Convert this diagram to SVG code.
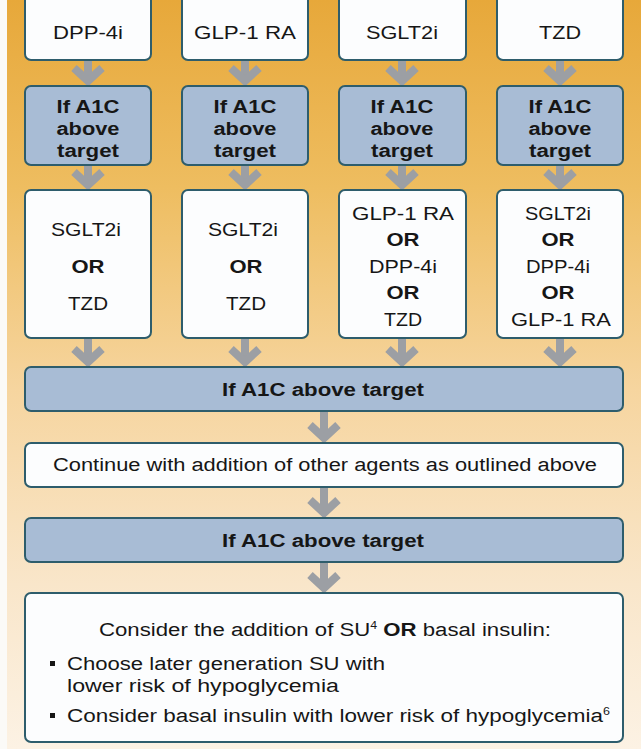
<svg xmlns="http://www.w3.org/2000/svg" width="641" height="749" viewBox="0 0 641 749">
  <defs>
    <linearGradient id="bg" x1="0" y1="0" x2="0" y2="1">
      <stop offset="0" stop-color="#e7a83a"/>
      <stop offset="0.25" stop-color="#eebd60"/>
      <stop offset="0.52" stop-color="#f6d59f"/>
      <stop offset="0.78" stop-color="#f9e6ca"/>
      <stop offset="1" stop-color="#fcf2e4"/>
    </linearGradient>
    <style>
      .drug { fill: #fcfdfe; stroke: #2e5d6c; stroke-width: 2; }
      .check { fill: #a8bcd5; stroke: #2e5d6c; stroke-width: 2; }
      .t { font-family: "Liberation Sans", Arial, sans-serif; font-size: 18px; fill: #161616; text-anchor: middle; }
      .b { font-weight: bold; }
      .l { text-anchor: start; }
      .arrow { fill: none; stroke: #9c9fa4; stroke-width: 8; }
    </style>
  </defs>

  <!-- background panel -->
  <rect x="0" y="0" width="641" height="749" fill="url(#bg)"/>
  <rect x="0" y="0" width="7" height="749" fill="#fbfaf7"/>

  <!-- connectors: stem plus chevron head -->
  <g id="connectors">
    <g class="arrow">
      <!-- first-line agents to checks -->
      <path d="M88 60 V80"/><polyline points="74,68 88,81 102,68"/>
      <path d="M245 60 V80"/><polyline points="231,68 245,81 259,68"/>
      <path d="M402 60 V80"/><polyline points="388,68 402,81 416,68"/>
      <path d="M560 60 V80"/><polyline points="546,68 560,81 574,68"/>
      <!-- checks to second-line options -->
      <path d="M88 165 V184"/><polyline points="74,172 88,185 102,172"/>
      <path d="M245 165 V184"/><polyline points="231,172 245,185 259,172"/>
      <path d="M402 165 V184"/><polyline points="388,172 402,185 416,172"/>
      <path d="M560 165 V184"/><polyline points="546,172 560,185 574,172"/>
      <!-- options to combined check -->
      <path d="M88 338 V361"/><polyline points="74,349 88,362 102,349"/>
      <path d="M245 338 V361"/><polyline points="231,349 245,362 259,349"/>
      <path d="M402 338 V361"/><polyline points="388,349 402,362 416,349"/>
      <path d="M560 338 V361"/><polyline points="546,349 560,362 574,349"/>
      <!-- vertical chain -->
      <path d="M324 411 V437"/><polyline points="310,425 324,438 338,425"/>
      <path d="M324 487 V512"/><polyline points="310,500 324,513 338,500"/>
      <path d="M324 562 V587"/><polyline points="310,575 324,588 338,575"/>
    </g>
  </g>

  <!-- first-line agents -->
  <g id="dpp4i">
    <rect class="drug" x="25" y="-10" width="126" height="70" rx="6"/>
    <text class="t" x="88" y="39" textLength="70" lengthAdjust="spacingAndGlyphs">DPP-4i</text>
  </g>
  <g id="glp1ra">
    <rect class="drug" x="182" y="-10" width="126" height="70" rx="6"/>
    <text class="t" x="245" y="39" textLength="102" lengthAdjust="spacingAndGlyphs">GLP-1 RA</text>
  </g>
  <g id="sglt2i">
    <rect class="drug" x="339" y="-10" width="127" height="70" rx="6"/>
    <text class="t" x="402" y="39" textLength="72" lengthAdjust="spacingAndGlyphs">SGLT2i</text>
  </g>
  <g id="tzd">
    <rect class="drug" x="497" y="-10" width="126" height="70" rx="6"/>
    <text class="t" x="560" y="39" textLength="42" lengthAdjust="spacingAndGlyphs">TZD</text>
  </g>

  <!-- A1C checks per column -->
  <g id="check1">
    <rect class="check" x="25" y="86" width="126" height="79" rx="6"/>
    <text class="t b" x="88" y="113" textLength="63" lengthAdjust="spacingAndGlyphs">If A1C</text>
    <text class="t b" x="88" y="135" textLength="63" lengthAdjust="spacingAndGlyphs">above</text>
    <text class="t b" x="88" y="157" textLength="62" lengthAdjust="spacingAndGlyphs">target</text>
  </g>
  <g id="check2">
    <rect class="check" x="182" y="86" width="126" height="79" rx="6"/>
    <text class="t b" x="245" y="113" textLength="63" lengthAdjust="spacingAndGlyphs">If A1C</text>
    <text class="t b" x="245" y="135" textLength="63" lengthAdjust="spacingAndGlyphs">above</text>
    <text class="t b" x="245" y="157" textLength="62" lengthAdjust="spacingAndGlyphs">target</text>
  </g>
  <g id="check3">
    <rect class="check" x="339" y="86" width="127" height="79" rx="6"/>
    <text class="t b" x="402" y="113" textLength="63" lengthAdjust="spacingAndGlyphs">If A1C</text>
    <text class="t b" x="402" y="135" textLength="63" lengthAdjust="spacingAndGlyphs">above</text>
    <text class="t b" x="402" y="157" textLength="62" lengthAdjust="spacingAndGlyphs">target</text>
  </g>
  <g id="check4">
    <rect class="check" x="497" y="86" width="126" height="79" rx="6"/>
    <text class="t b" x="560" y="113" textLength="63" lengthAdjust="spacingAndGlyphs">If A1C</text>
    <text class="t b" x="560" y="135" textLength="63" lengthAdjust="spacingAndGlyphs">above</text>
    <text class="t b" x="560" y="157" textLength="62" lengthAdjust="spacingAndGlyphs">target</text>
  </g>

  <!-- second-line options -->
  <g id="opt1">
    <rect class="drug" x="25" y="190" width="126" height="148" rx="6"/>
    <text class="t" x="86" y="236" textLength="70" lengthAdjust="spacingAndGlyphs">SGLT2i</text>
    <text class="t b" x="88" y="273" textLength="33" lengthAdjust="spacingAndGlyphs">OR</text>
    <text class="t" x="88" y="310" textLength="40" lengthAdjust="spacingAndGlyphs">TZD</text>
  </g>
  <g id="opt2">
    <rect class="drug" x="182" y="190" width="126" height="148" rx="6"/>
    <text class="t" x="243" y="236" textLength="70" lengthAdjust="spacingAndGlyphs">SGLT2i</text>
    <text class="t b" x="246" y="273" textLength="33" lengthAdjust="spacingAndGlyphs">OR</text>
    <text class="t" x="246" y="310" textLength="40" lengthAdjust="spacingAndGlyphs">TZD</text>
  </g>
  <g id="opt3">
    <rect class="drug" x="339" y="190" width="127" height="148" rx="6"/>
    <text class="t" x="403" y="220" textLength="102" lengthAdjust="spacingAndGlyphs">GLP-1 RA</text>
    <text class="t b" x="403" y="246" textLength="33" lengthAdjust="spacingAndGlyphs">OR</text>
    <text class="t" x="403" y="273" textLength="68" lengthAdjust="spacingAndGlyphs">DPP-4i</text>
    <text class="t b" x="403" y="299" textLength="33" lengthAdjust="spacingAndGlyphs">OR</text>
    <text class="t" x="403" y="326" textLength="38" lengthAdjust="spacingAndGlyphs">TZD</text>
  </g>
  <g id="opt4">
    <rect class="drug" x="497" y="190" width="126" height="148" rx="6"/>
    <text class="t" x="558" y="220" textLength="66" lengthAdjust="spacingAndGlyphs">SGLT2i</text>
    <text class="t b" x="558" y="246" textLength="33" lengthAdjust="spacingAndGlyphs">OR</text>
    <text class="t" x="558" y="273" textLength="64" lengthAdjust="spacingAndGlyphs">DPP-4i</text>
    <text class="t b" x="558" y="299" textLength="33" lengthAdjust="spacingAndGlyphs">OR</text>
    <text class="t" x="561" y="326" textLength="100" lengthAdjust="spacingAndGlyphs">GLP-1 RA</text>
  </g>

  <!-- combined steps -->
  <g id="check-all">
    <rect class="check" x="25" y="367" width="598" height="44" rx="6"/>
    <text class="t b" x="323" y="396" textLength="202" lengthAdjust="spacingAndGlyphs">If A1C above target</text>
  </g>
  <g id="continue">
    <rect class="drug" x="25" y="443" width="598" height="44" rx="6"/>
    <text class="t" x="325" y="471" textLength="544" lengthAdjust="spacingAndGlyphs">Continue with addition of other agents as outlined above</text>
  </g>
  <g id="check-final">
    <rect class="check" x="25" y="518" width="598" height="44" rx="6"/>
    <text class="t b" x="323" y="547" textLength="202" lengthAdjust="spacingAndGlyphs">If A1C above target</text>
  </g>
  <g id="add-su-insulin">
    <rect class="drug" x="25" y="593" width="598" height="149" rx="6"/>
    <text class="t" x="325" y="636" textLength="452" lengthAdjust="spacingAndGlyphs">Consider the addition of SU<tspan font-size="10" dy="-7">4</tspan><tspan dy="7"> </tspan><tspan font-weight="bold">OR</tspan> basal insulin:</text>
    <rect x="50" y="661" width="5" height="5" fill="#161616"/>
    <text class="t l" x="67" y="670" textLength="318" lengthAdjust="spacingAndGlyphs">Choose later generation SU with</text>
    <text class="t l" x="67" y="692" textLength="272" lengthAdjust="spacingAndGlyphs">lower risk of hypoglycemia</text>
    <rect x="50" y="713" width="5" height="5" fill="#161616"/>
    <text class="t l" x="67" y="722" textLength="543" lengthAdjust="spacingAndGlyphs">Consider basal insulin with lower risk of hypoglycemia<tspan font-size="10" dy="-7">6</tspan></text>
  </g>
</svg>
